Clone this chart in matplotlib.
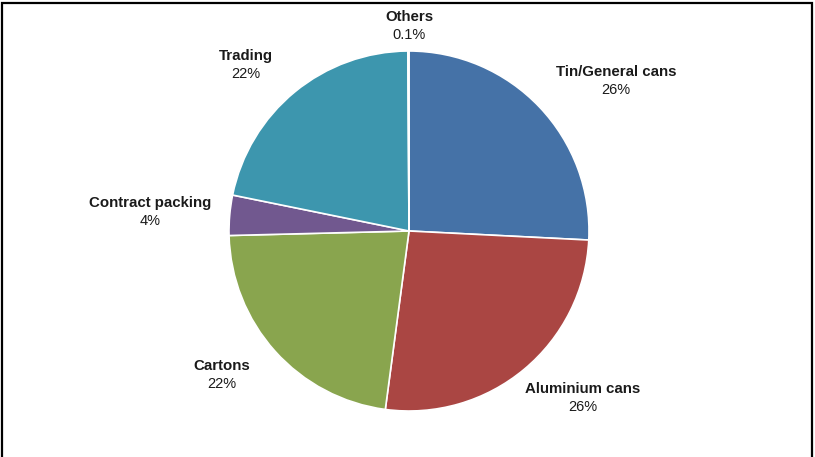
import matplotlib
matplotlib.use("Agg")
import matplotlib.pyplot as plt
from matplotlib.patches import Rectangle
import numpy as np

categories = ["Tin/General cans", "Aluminium cans", "Cartons",
              "Contract packing", "Trading", "Others"]
shares = [25.8, 26.3, 22.5, 3.6, 21.7, 0.1]
colors = ["#4572A7", "#AA4643", "#89A54E", "#71588F", "#3D96AE", "#DB843D"]

# label placement (angle in degrees, distance in radii)
label_pos = [(35.9, 1.42), (-43.8, 1.34), (-142.4, 1.31),
             (175.8, 1.44), (134.5, 1.29), (90.0, 1.14)]

W, H, dpi = 815, 457, 100
cx, cy, r = 409, 231, 180

fig = plt.figure(figsize=(W / dpi, H / dpi), dpi=dpi)
ax = fig.add_axes([0, 0, 1, 1])

wedges, _ = ax.pie(shares, colors=colors, startangle=90, counterclock=False,
                   radius=1, center=(0, 0), frame=True,
                   wedgeprops=dict(edgecolor="white", linewidth=1.2))
ax.set_xlim(-cx / r, (W - cx) / r)
ax.set_ylim(-(H - cy) / r, cy / r)
ax.set_aspect("auto")
ax.axis("off")

for name, val, (ang, d) in zip(categories, shares, label_pos):
    x = d * np.cos(np.radians(ang))
    y = d * np.sin(np.radians(ang))
    pct = f"{val:.1f}%" if val < 1 else f"{val:.0f}%"
    ax.text(x, y + 9 / r, name, ha="center", va="center", fontsize=10.8,
            fontweight="bold", family="Liberation Sans", color="#1a1a1a")
    ax.text(x, y - 9 / r, pct, ha="center", va="center", fontsize=10.5,
            family="Liberation Sans", color="#1a1a1a")

fig.patches.append(Rectangle((2 / W, -0.05), (W - 5) / W, 1.05 - 3 / H,
                             transform=fig.transFigure, fill=False,
                             edgecolor="black", linewidth=1.6))

fig.savefig("out.png", dpi=dpi)
